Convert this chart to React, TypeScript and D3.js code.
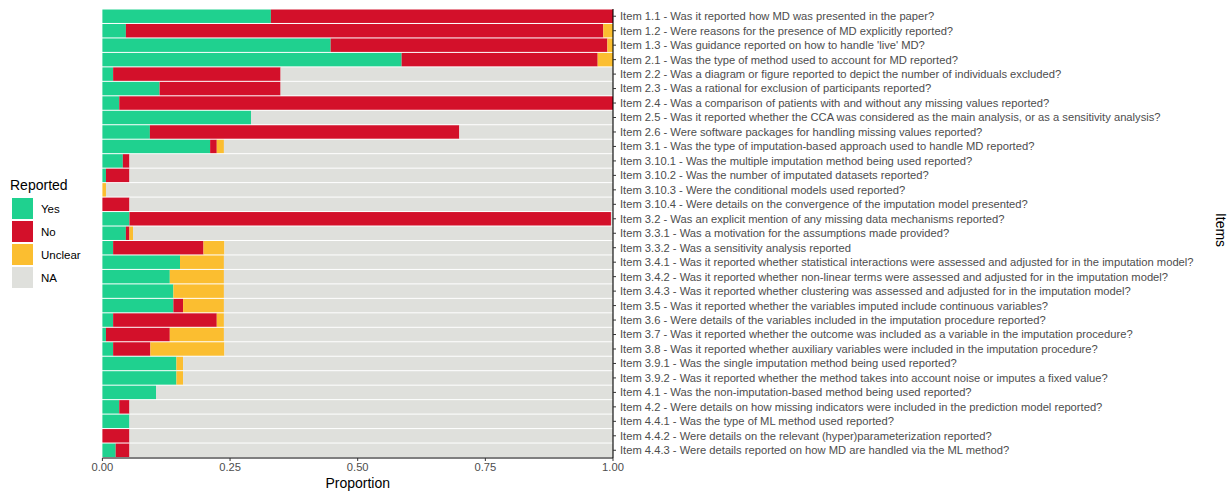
import React from "react";
import * as d3 from "d3";

const items: string[] = [
  "Item 1.1 - Was it reported how MD was presented in the paper?",
  "Item 1.2 - Were reasons for the presence of MD explicitly reported?",
  "Item 1.3 - Was guidance reported on how to handle 'live' MD?",
  "Item 2.1 - Was the type of method used to account for MD reported?",
  "Item 2.2 - Was a diagram or figure reported to depict the number of individuals excluded?",
  "Item 2.3 - Was a rational for exclusion of participants reported?",
  "Item 2.4 - Was a comparison of patients with and without any missing values reported?",
  "Item 2.5 - Was it reported whether the CCA was considered as the main analysis, or as a sensitivity analysis?",
  "Item 2.6 - Were software packages for handling missing values reported?",
  "Item 3.1 - Was the type of imputation-based approach used to handle MD reported?",
  "Item 3.10.1 - Was the multiple imputation method being used reported?",
  "Item 3.10.2 - Was the number of imputated datasets reported?",
  "Item 3.10.3 - Were the conditional models used reported?",
  "Item 3.10.4 - Were details on the convergence of the imputation model presented?",
  "Item 3.2 - Was an explicit mention of any missing data mechanisms reported?",
  "Item 3.3.1 - Was a motivation for the assumptions made provided?",
  "Item 3.3.2 - Was a sensitivity analysis reported",
  "Item 3.4.1 - Was it reported whether statistical interactions were assessed and adjusted for in the imputation model?",
  "Item 3.4.2 - Was it reported whether non-linear terms were assessed and adjusted for in the imputation model?",
  "Item 3.4.3 - Was it reported whether clustering was assessed and adjusted for in the imputation model?",
  "Item 3.5 - Was it reported whether the variables imputed include continuous variables?",
  "Item 3.6 - Were details of the variables included in the imputation procedure reported?",
  "Item 3.7 - Was it reported whether the outcome was included as a variable in the imputation procedure?",
  "Item 3.8 - Was it reported whether auxiliary variables were included in the imputation procedure?",
  "Item 3.9.1 - Was the single imputation method being used reported?",
  "Item 3.9.2 - Was it reported whether the method takes into account noise or imputes a fixed value?",
  "Item 4.1 - Was the non-imputation-based method being used reported?",
  "Item 4.2 - Were details on how missing indicators were included in the prediction model reported?",
  "Item 4.4.1 - Was the type of ML method used reported?",
  "Item 4.4.2 - Were details on the relevant (hyper)parameterization reported?",
  "Item 4.4.3 - Were details reported on how MD are handled via the ML method?",
];

const yesValues: number[] = [
  0.33, 0.046, 0.447, 0.586, 0.021, 0.112, 0.033, 0.291, 0.093, 0.211,
  0.04, 0.007, 0, 0, 0.053, 0.046, 0.021, 0.152, 0.132, 0.139,
  0.139, 0.021, 0.007, 0.021, 0.145, 0.145, 0.105, 0.033, 0.053, 0, 0.026,
];
const noValues: number[] = [
  0.67, 0.935, 0.542, 0.384, 0.328, 0.237, 0.967, 0, 0.606, 0.013,
  0.013, 0.046, 0, 0.053, 0.943, 0.007, 0.177, 0, 0, 0,
  0.019, 0.203, 0.125, 0.073, 0, 0, 0, 0.02, 0, 0.053, 0.027,
];
const unclearValues: number[] = [
  0, 0.019, 0.011, 0.03, 0, 0, 0, 0, 0, 0.014,
  0, 0, 0.007, 0, 0, 0.007, 0.041, 0.086, 0.106, 0.099,
  0.08, 0.014, 0.106, 0.145, 0.013, 0.013, 0, 0, 0, 0, 0,
];

const categories = ["Yes", "No", "Unclear", "NA"];
const colors = ["#1fd18f", "#d3102a", "#fbbe30", "#dfe0dc"];
const xTicks = [0, 0.25, 0.5, 0.75, 1];

export default function App() {
  const W = 1231;
  const H = 492;
  const left = 102.4;
  const right = 613;
  const top = 9;
  const bottom = 457.5;

  const x = d3.scaleLinear().domain([0, 1]).range([left, right]);
  const y = d3
    .scaleBand<string>()
    .domain(items)
    .range([top, bottom])
    .paddingInner(0.07)
    .paddingOuter(0.035);

  const rows = items.map((item, i) => {
    const yes = yesValues[i];
    const no = noValues[i];
    const un = unclearValues[i];
    const na = Math.max(0, 1 - yes - no - un);
    return { item, Yes: yes, No: no, Unclear: un, NA: na };
  });
  const stacked = d3.stack<any>().keys(categories)(rows);

  const font = "'Liberation Sans', Arial, sans-serif";
  const axisColor = "#4d4d4d";

  return (
    <svg
      width={W}
      height={H}
      style={{ position: "absolute", left: 0, top: 0, background: "#fff" }}
      fontFamily={font}
    >
      {stacked.map((layer, li) => (
        <g key={layer.key} fill={colors[li]}>
          {layer.map((d, i) =>
            d[1] - d[0] > 0 ? (
              <rect
                key={i}
                x={x(d[0])}
                width={x(d[1]) - x(d[0])}
                y={y(items[i])}
                height={y.bandwidth()}
              />
            ) : null
          )}
        </g>
      ))}

      {/* right axis */}
      <line x1={right} x2={right} y1={top} y2={bottom + 0.5} stroke="#000" strokeWidth={1.1} />
      {items.map((it) => {
        const cy = (y(it) as number) + y.bandwidth() / 2;
        return (
          <g key={it}>
            <line x1={right} x2={right + 3} y1={cy} y2={cy} stroke="#333" strokeWidth={1} />
            <text
              x={right + 7}
              y={cy}
              dy="0.35em"
              fontSize={11.2}
              fill={axisColor}
            >
              {it}
            </text>
          </g>
        );
      })}

      {/* bottom axis */}
      <line x1={left} x2={right} y1={bottom + 0.5} y2={bottom + 0.5} stroke="#000" strokeWidth={1.1} />
      {xTicks.map((t) => (
        <g key={t}>
          <line x1={x(t)} x2={x(t)} y1={bottom + 0.5} y2={bottom + 3.5} stroke="#333" />
          <text x={x(t)} y={bottom + 13} textAnchor="middle" fontSize={11.2} fill={axisColor}>
            {d3.format(".2f")(t)}
          </text>
        </g>
      ))}
      <text x={(left + right) / 2} y={488} textAnchor="middle" fontSize={14} fill="#000">
        Proportion
      </text>

      {/* right axis title */}
      <text
        transform={`translate(1216, 230) rotate(90)`}
        textAnchor="middle"
        fontSize={14}
        fill="#000"
      >
        Items
      </text>

      {/* legend */}
      <text x={10} y={190} fontSize={14} fill="#000">
        Reported
      </text>
      {categories.map((c, i) => (
        <g key={c}>
          <rect x={12} y={198 + i * 23} width={21} height={21} fill={colors[i]} />
          <text x={41} y={198 + i * 23 + 10.5} dy="0.35em" fontSize={11.5} fill="#000">
            {c}
          </text>
        </g>
      ))}
    </svg>
  );
}
